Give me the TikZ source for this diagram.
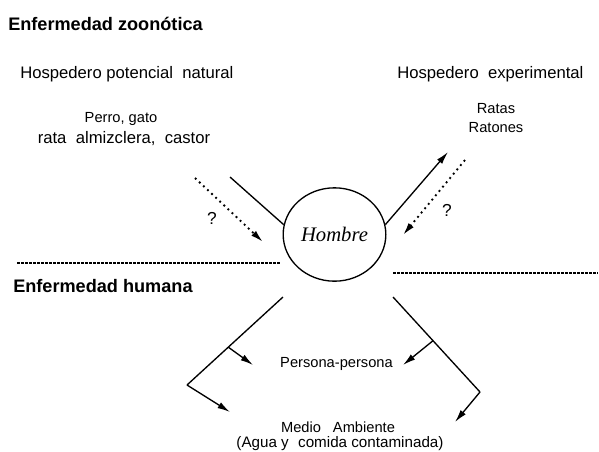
\documentclass[tikz,border=0pt]{standalone}
\usepackage{fontspec}
\setmainfont{Liberation Sans}
\newfontfamily\hombrefont{Liberation Serif}
\usetikzlibrary{arrows.meta,positioning,calc,shapes.geometric}

\begin{document}
\begin{tikzpicture}[x=0.75pt,y=-0.75pt,
  titulo/.style={font=\fontsize{13.6}{16}\selectfont\bfseries,anchor=base west,inner sep=0pt},
  grupo/.style={font=\fontsize{12.5}{15}\selectfont,anchor=base west,inner sep=0pt},
  especie/.style={font=\fontsize{11}{13}\selectfont,anchor=base,inner sep=0pt},
  via/.style={font=\fontsize{11}{13}\selectfont,anchor=base,inner sep=0pt},
  huesped/.style={ellipse,draw,line width=1pt,minimum width=77pt,minimum height=70pt,inner sep=0pt,font=\fontsize{15.5}{18}\selectfont\hombrefont\itshape},
  lnk/.style={line width=1pt},
  tip/.style={-{Latex[length=9.5pt,width=5pt]},line width=1pt},
  duda/.style={-{Latex[length=9.5pt,width=5pt]},line width=1.4pt,dash pattern=on 1.4pt off 2.8pt},
  limite/.style={line width=0.8pt,dash pattern=on 2pt off 1pt}]
\useasboundingbox (0,0) rectangle (599,451);
% zoonosis
\node[titulo] (zoo) at (8,30) {Enfermedad zoonótica};
\node[grupo] (natural) at (20,78) {Hospedero potencial\ \ natural};
\node[especie] (perro) at (121,122) {Perro, gato};
\node[especie,font=\fontsize{12.5}{15}\selectfont] (rata) at (124,143) {rata\hspace{7pt}almizclera,\hspace{7pt}castor};
\node[grupo] (exper) at (397,78) {Hospedero\ \ experimental};
\node[especie] (ratas) at (496,113) {Ratas};
\node[especie] (ratones) at (496,132) {Ratones};
% man
\node[huesped] (hombre) at (334.5,234.5) {Hombre};
\coordinate (nat) at (230,177);
\coordinate (exp) at (448,152);
\draw[lnk] (nat) -- (hombre.169);
\draw[tip] (hombre.11) -- (exp);
\coordinate (q1a) at (195,178); \coordinate (q1b) at (263,242);
\coordinate (q2a) at (465,160); \coordinate (q2b) at (403,235);
\draw[duda] (q1a) -- (q1b);
\draw[duda] (q2a) -- (q2b);
\node[especie,font=\fontsize{13}{15}\selectfont,anchor=center] (q1) at (212,218) {?};
\node[especie,font=\fontsize{13}{15}\selectfont,anchor=center] (q2) at (447,210) {?};
% limits
\draw[limite] (17,263) -- (280,263);
\draw[limite] (393,273) -- (598,273);
% human disease
\node[titulo] (humana) at (13,292) {Enfermedad humana};
\node[via] (pp) at (336.5,367) {Persona-persona};
\node[via] (medio) at (338,432) {Medio\hspace{9pt}Ambiente};
\node[via,font=\fontsize{11.4}{13}\selectfont] (agua) at (340,447) {(Agua y\hspace{7pt}comida contaminada)};
\coordinate (l0) at (283,297); \coordinate (l1) at (187,385);
\coordinate (r0) at (393,297); \coordinate (r1) at (480,392);
\coordinate (ppl) at (253,365); \coordinate (ppr) at (403,365);
\coordinate (mal) at (230,412); \coordinate (mar) at (455,422);
\draw[lnk] (l0) -- (l1);
\draw[lnk] (r0) -- (r1);
\draw[tip] ($(l0)!0.57!(l1)$) -- (ppl);
\draw[tip] ($(r0)!0.46!(r1)$) -- (ppr);
\draw[tip] (l1) -- (mal);
\draw[tip] (r1) -- (mar);
\end{tikzpicture}
\end{document}
